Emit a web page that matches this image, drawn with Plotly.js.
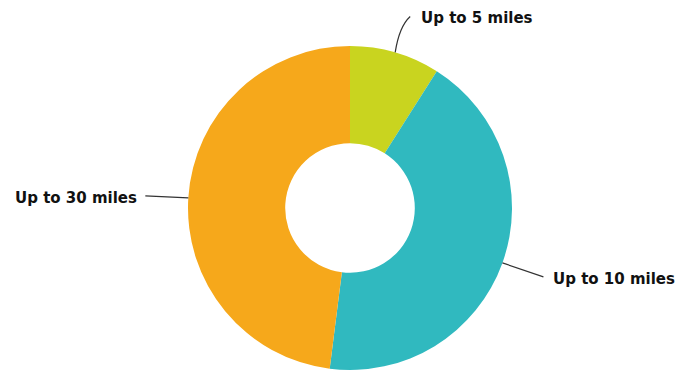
<!DOCTYPE html>
<html>
<head>
<meta charset="utf-8">
<script src="https://cdn.plot.ly/plotly-3.0.1.min.js"></script>
<style>html,body{margin:0;padding:0;background:#fff;}#chart{width:681px;height:371px;}</style>
</head>
<body>
<div id="chart"></div>
<script>
var categories = ["Up to 5 miles", "Up to 10 miles", "Up to 30 miles"];
var values = [9, 43, 48];
var colors = ["#c9d41f", "#30b9bf", "#f6a81b"];

var W = 681, H = 371;
var cx = 350, cy = 208, R = 162;
function px(x){ return x / W; }
function py(y){ return 1 - y / H; }

// label layout relative to the slice mid-angle point
var labelCfg = [
  {dx: 15, dy: -36, curve: true, tx: 9, ty: 2, anchor: "left"},
  {dx: 41, dy: 14, curve: false, tx: 8, ty: 2, anchor: "left"},
  {dx: -43, dy: -2, curve: false, tx: -6, ty: 2, anchor: "right"}
];

var total = values.reduce(function(a,b){return a+b;},0);
var shapes = [], annotations = [];
var acc = 0;
values.forEach(function(v, i){
  var mid = (acc + v/2) / total * 2 * Math.PI;
  acc += v;
  var x0 = cx + R * Math.sin(mid), y0 = cy - R * Math.cos(mid);
  var c = labelCfg[i];
  var x1 = x0 + c.dx, y1 = y0 + c.dy;
  var path;
  if (c.curve) {
    var qx = x0 + 4, qy = y0 - 26;
    path = "M " + px(x0) + " " + py(y0) + " Q " + px(qx) + " " + py(qy) + " " + px(x1) + " " + py(y1);
  } else {
    path = "M " + px(x0) + " " + py(y0) + " L " + px(x1) + " " + py(y1);
  }
  shapes.push({type: "path", xref: "paper", yref: "paper", path: path,
    line: {color: "#333333", width: 1.2}});
  annotations.push({xref: "paper", yref: "paper", x: px(x1 + c.tx), y: py(y1 + c.ty),
    xanchor: c.anchor, yanchor: "middle", showarrow: false, text: categories[i],
    font: {family: "DejaVu Sans", size: 15, color: "#111111", weight: "bold"}});
});

var data = [{
  type: "pie",
  labels: categories,
  values: values,
  hole: 0.4,
  sort: false,
  direction: "clockwise",
  rotation: 0,
  textinfo: "none",
  marker: {colors: colors, line: {width: 0}},
  domain: {x: [px(cx - R), px(cx + R)], y: [py(cy + R), py(cy - R)]},
  hoverinfo: "label+percent"
}];

var layout = {
  width: W, height: H,
  margin: {l: 0, r: 0, t: 0, b: 0},
  showlegend: false,
  paper_bgcolor: "#ffffff",
  shapes: shapes,
  annotations: annotations
};

Plotly.newPlot("chart", data, layout, {displayModeBar: false, staticPlot: true});
</script>
</body>
</html>
